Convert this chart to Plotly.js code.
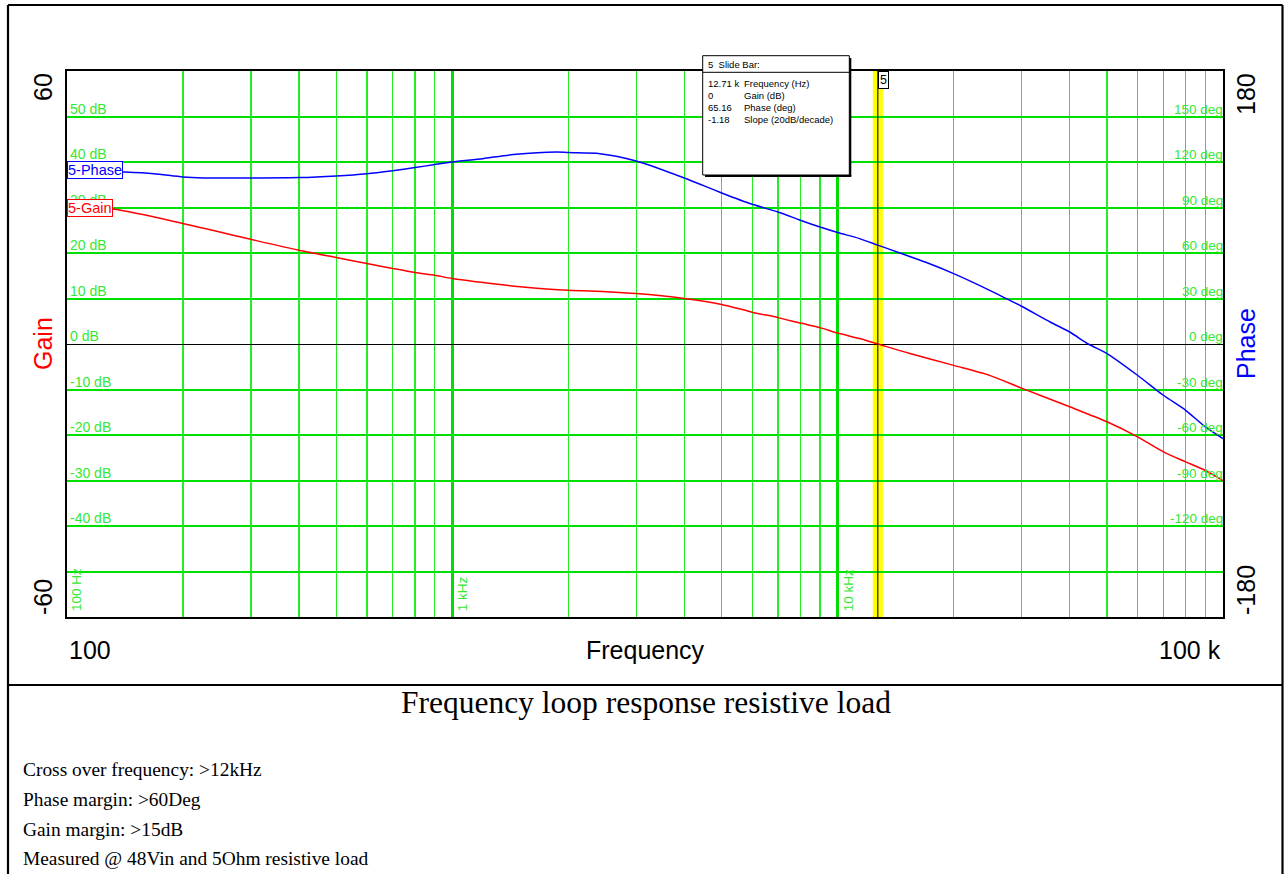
<!DOCTYPE html>
<html><head><meta charset="utf-8">
<script src="https://cdn.plot.ly/plotly-3.0.1.min.js"></script>
<style>html,body{margin:0;padding:0;background:#fff;overflow:hidden;} #chart{width:1288px;height:874px;}</style>
</head><body><div id="chart"></div>
<script>
// ---- data ----
const freqGain = [100,133,200,300,400,500,600,700,800,900,1000,1385,1500,2000,2500,3000,4000,5000,6000,7000,8000,9000,10000,11400,12710,15400,20000,24800,30000,40000,50000,60000,70000,80000,90000,100000];
const gainDb   = [30.3,29.6,26.5,23.0,20.6,19.0,17.7,16.6,15.7,15.1,14.4,12.9,12.6,11.8,11.5,11.1,10.0,8.7,7.0,5.8,4.6,3.6,2.4,1.2,0,-2.1,-4.7,-6.9,-9.7,-13.8,-17.1,-20.4,-23.7,-25.9,-27.8,-30.0];
const freqPhase = [100,141,168,200,226,300,400,500,600,700,800,900,1000,1200,1440,1866,2000,2416,3000,4000,5000,6000,7000,8000,9000,10000,11400,12710,14500,17000,20000,24800,27400,30000,35600,40000,44700,50000,60000,70000,80000,90000,100000];
const phaseDeg  = [114.5,113.4,112.3,110.1,109.5,109.5,109.7,110.8,112.3,114.3,116.3,118.3,120.0,122.2,124.9,126.6,126.2,125.5,120.7,109.5,99.6,92.1,87.0,81.6,77.1,73.5,69.5,65.2,60.0,53.7,46.4,35.4,29.9,24.9,14.5,7.9,0,-6.3,-20.6,-33.8,-43.7,-54.7,-62.4];

const sliderFreq = 12710;
const readoutValues = ['12.71 k','0','65.16','-1.18'];
const readoutNames  = ['Frequency (Hz)','Gain (dB)','Phase (deg)','Slope (20dB/decade)'];

const gainGridVals   = [50,40,30,20,10,0,-10,-20,-30,-40];
const gainGridLabels = ['50 dB','40 dB','30 dB','20 dB','10 dB','0 dB','-10 dB','-20 dB','-30 dB','-40 dB'];
const phaseGridVals   = [150,120,90,60,30,0,-30,-60,-90,-120];
const phaseGridLabels = ['150 deg','120 deg','90 deg','60 deg','30 deg','0 deg','-30 deg','-60 deg','-90 deg','-120 deg'];
const decadeVals   = [100,1000,10000];
const decadeLabels = ['100 Hz','1 kHz','10 kHz'];

const chartTitle = 'Frequency loop response resistive load';
const notes = ['Cross over frequency: >12kHz','Phase margin: >60Deg','Gain margin: >15dB','Measured @ 48Vin and 5Ohm resistive load'];

// ---- layout helpers ----
const W=1288, H=874, L=67, R=65, T=71, B=257;
const PW=W-L-R, PH=H-T-B, BOTTOM=H-B;
const px = x => (x-L)/PW;
const py = y => (BOTTOM-y)/PH;
const SANS = 'Liberation Sans, Arial, sans-serif';
const SERIF = 'Liberation Serif, Times New Roman, serif';
const GRIDTXT = '#33e833';

const minorVals = [];
decadeVals.forEach(d => { for (let k=2;k<=9;k++) minorVals.push(d*k); });

const traces = [
  {x:freqGain, y:gainDb, type:'scatter', mode:'lines', line:{color:'#ff0000', width:1.5, shape:'spline', smoothing:0.7}, hoverinfo:'skip', xaxis:'x', yaxis:'y'},
  {x:freqPhase, y:phaseDeg, type:'scatter', mode:'lines', line:{color:'#0000ff', width:1.5, shape:'spline', smoothing:0.7}, hoverinfo:'skip', xaxis:'x', yaxis:'y2'}
];

const shapes = [];
const annotations = [];

// outer frames
const fx0 = px(8), fx1 = px(1282.5), fyTop = py(5), fyMid = py(685), fyBot = py(880);
shapes.push({type:'line', xref:'paper', yref:'paper', x0:fx0, x1:fx1, y0:fyTop, y1:fyTop, line:{color:'#000', width:2.2}});
shapes.push({type:'line', xref:'paper', yref:'paper', x0:fx0, x1:fx1, y0:fyMid, y1:fyMid, line:{color:'#000', width:2.2}});
shapes.push({type:'line', xref:'paper', yref:'paper', x0:fx0, x1:fx0, y0:fyTop, y1:fyBot, line:{color:'#000', width:2.2}});
shapes.push({type:'line', xref:'paper', yref:'paper', x0:fx1, x1:fx1, y0:fyTop, y1:fyBot, line:{color:'#000', width:2.2}});

// slider bar
shapes.push({type:'line', xref:'x', yref:'paper', x0:sliderFreq, x1:sliderFreq, y0:0, y1:1, line:{color:'#ffff00', width:10}, layer:'between'});
shapes.push({type:'line', xref:'x', yref:'paper', x0:sliderFreq, x1:sliderFreq, y0:0, y1:1, line:{color:'#222', width:1.2}, layer:'above'});
annotations.push({xref:'x', yref:'paper', x:Math.log10(sliderFreq), y:1, xanchor:'left', yanchor:'top', xshift:0, yshift:0, text:'5', showarrow:false,
  font:{family:SANS, size:12.5, color:'#000'}, bgcolor:'#fff', bordercolor:'#000', borderwidth:1, borderpad:1});

// slide bar readout box
const bx0=px(702.7), bx1=px(849.3), by0=py(55.7), by1=py(175);
shapes.push({type:'rect', xref:'paper', yref:'paper', x0:bx0, x1:bx1, y0:by1, y1:by0, fillcolor:'#fff', line:{color:'#000', width:1}, layer:'above'});
shapes.push({type:'line', xref:'paper', yref:'paper', x0:px(850.3), x1:px(850.3), y0:py(58), y1:py(176), line:{color:'#000', width:2}, layer:'above'});
shapes.push({type:'line', xref:'paper', yref:'paper', x0:px(705), x1:px(851.3), y0:py(176), y1:py(176), line:{color:'#000', width:2}, layer:'above'});
shapes.push({type:'line', xref:'paper', yref:'paper', x0:bx0, x1:bx1, y0:py(72.3), y1:py(72.3), line:{color:'#000', width:1}, layer:'above'});
annotations.push({xref:'paper', yref:'paper', x:px(706), y:py(64), xanchor:'left', yanchor:'middle', text:'5&nbsp;&nbsp;Slide Bar:', showarrow:false, font:{family:SANS, size:9.5, color:'#000'}});
readoutValues.forEach((v,i) => {
  const yy = py(83.5 + 12*i);
  annotations.push({xref:'paper', yref:'paper', x:px(706), y:yy, xanchor:'left', yanchor:'middle', text:v, showarrow:false, font:{family:SANS, size:9.5, color:'#000'}});
  annotations.push({xref:'paper', yref:'paper', x:px(741.5), y:yy, xanchor:'left', yanchor:'middle', text:readoutNames[i], showarrow:false, font:{family:SANS, size:9.5, color:'#000'}});
});

// grid labels (left: gain)
gainGridVals.forEach((v,i) => {
  const w = gainGridLabels[i].length*7.4 + 2;
  shapes.push({type:'rect', xref:'paper', yref:'y', xsizemode:'pixel', ysizemode:'pixel', xanchor:0, yanchor:v, x0:1, x1:1+w, y0:1.5, y1:16, fillcolor:'#fff', line:{width:0}, layer:'between'});
  annotations.push({xref:'paper', yref:'y', x:0, y:v, xanchor:'left', yanchor:'bottom', xshift:2, yshift:-1, text:gainGridLabels[i], showarrow:false, font:{family:SANS, size:14, color:GRIDTXT}, borderpad:0});
});
// grid labels (right: phase)
phaseGridVals.forEach((v,i) => {
  const w = phaseGridLabels[i].length*7.1 + 2;
  shapes.push({type:'rect', xref:'paper', yref:'y2', xsizemode:'pixel', ysizemode:'pixel', xanchor:1, yanchor:v, x0:-w, x1:-1, y0:1.5, y1:16, fillcolor:'#fff', line:{width:0}, layer:'between'});
  annotations.push({xref:'paper', yref:'y2', x:1, y:v, xanchor:'right', yanchor:'bottom', xshift:1, yshift:-1, text:phaseGridLabels[i], showarrow:false, font:{family:SANS, size:13.5, color:GRIDTXT}, borderpad:0});
});
// decade labels (vertical)
decadeVals.forEach((v,i) => {
  annotations.push({xref:'x', yref:'paper', x:Math.log10(v), y:0, xanchor:'left', yanchor:'bottom', xshift:(i===0?1:2), yshift:5, text:decadeLabels[i], textangle:-90, showarrow:false, font:{family:SANS, size:13.5, color:GRIDTXT}, borderpad:0});
});

// trace tags
annotations.push({xref:'paper', yref:'y2', x:0, y:phaseDeg[0], xanchor:'left', yanchor:'middle', xshift:0, text:'5-Phase', showarrow:false, font:{family:SANS, size:14.5, color:'#0000ff'}, bgcolor:'#fff', bordercolor:'#0000ff', borderwidth:1, borderpad:0});
annotations.push({xref:'paper', yref:'y', x:0, y:gainDb[0]-0.5, xanchor:'left', yanchor:'middle', xshift:0, text:'5-Gain', showarrow:false, font:{family:SANS, size:14.5, color:'#ff0000'}, bgcolor:'#fff', bordercolor:'#ff0000', borderwidth:1, borderpad:0});

// axis labels
const axFont = (c) => ({family:SANS, size:25, color:c});
annotations.push({xref:'paper', yref:'paper', x:px(43), y:1, xanchor:'center', yanchor:'top', textangle:-90, text:'60', showarrow:false, font:axFont('#000')});
annotations.push({xref:'paper', yref:'paper', x:px(43), y:0, xanchor:'center', yanchor:'bottom', textangle:-90, text:'-60', showarrow:false, font:axFont('#000')});
annotations.push({xref:'paper', yref:'paper', x:px(43), y:py(344), xanchor:'center', yanchor:'middle', textangle:-90, text:'Gain', showarrow:false, font:axFont('#ff0000')});
annotations.push({xref:'paper', yref:'paper', x:px(1246), y:1, xanchor:'center', yanchor:'top', textangle:-90, text:'180', showarrow:false, font:axFont('#000')});
annotations.push({xref:'paper', yref:'paper', x:px(1246), y:0, xanchor:'center', yanchor:'bottom', textangle:-90, text:'-180', showarrow:false, font:axFont('#000')});
annotations.push({xref:'paper', yref:'paper', x:px(1246), y:py(344), xanchor:'center', yanchor:'middle', textangle:-90, text:'Phase', showarrow:false, font:axFont('#0000ff')});
annotations.push({xref:'paper', yref:'paper', x:0, y:py(650), xanchor:'left', yanchor:'middle', text:'100', showarrow:false, font:axFont('#000')});
annotations.push({xref:'paper', yref:'paper', x:0.5, y:py(650), xanchor:'center', yanchor:'middle', text:'Frequency', showarrow:false, font:axFont('#000')});
annotations.push({xref:'paper', yref:'paper', x:1, y:py(650), xanchor:'right', yanchor:'middle', text:'100 k', showarrow:false, font:axFont('#000')});

// caption
annotations.push({xref:'paper', yref:'paper', x:px(645.5), y:py(703), xanchor:'center', yanchor:'middle', text:chartTitle, showarrow:false, font:{family:SERIF, size:31.5, color:'#000'}});
notes.forEach((t,i) => {
  annotations.push({xref:'paper', yref:'paper', x:px(21), y:py(770 + 29.5*i), xanchor:'left', yanchor:'middle', text:t, showarrow:false, font:{family:SERIF, size:19.4, color:'#000'}});
});

const layout = {
  width:W, height:H, margin:{l:L, r:R, t:T, b:B, pad:0},
  paper_bgcolor:'#fff', plot_bgcolor:'#fff', showlegend:false, hovermode:false,
  xaxis:{type:'log', range:[2,5], tickvals:[100,1000,10000,100000], showticklabels:false, ticks:'',
    showgrid:true, gridcolor:'#00dd00', gridwidth:3, zeroline:false,
    showline:true, mirror:true, linecolor:'#000', linewidth:2,
    minor:{tickvals:minorVals, showgrid:true, gridcolor:'#22ee22', gridwidth:1.3, ticks:''}},
  yaxis:{range:[-60,60], tickvals:[-50,-40,-30,-20,-10,10,20,30,40,50], showticklabels:false, ticks:'',
    showgrid:true, gridcolor:'#00e000', gridwidth:2,
    zeroline:true, zerolinecolor:'#000', zerolinewidth:1,
    showline:true, mirror:true, linecolor:'#000', linewidth:2},
  yaxis2:{overlaying:'y', side:'right', range:[-180,180], showgrid:false, showticklabels:false, ticks:'', zeroline:false, showline:false},
  shapes:shapes, annotations:annotations
};
Plotly.newPlot('chart', traces, layout, {staticPlot:true, displayModeBar:false});
</script></body></html>
